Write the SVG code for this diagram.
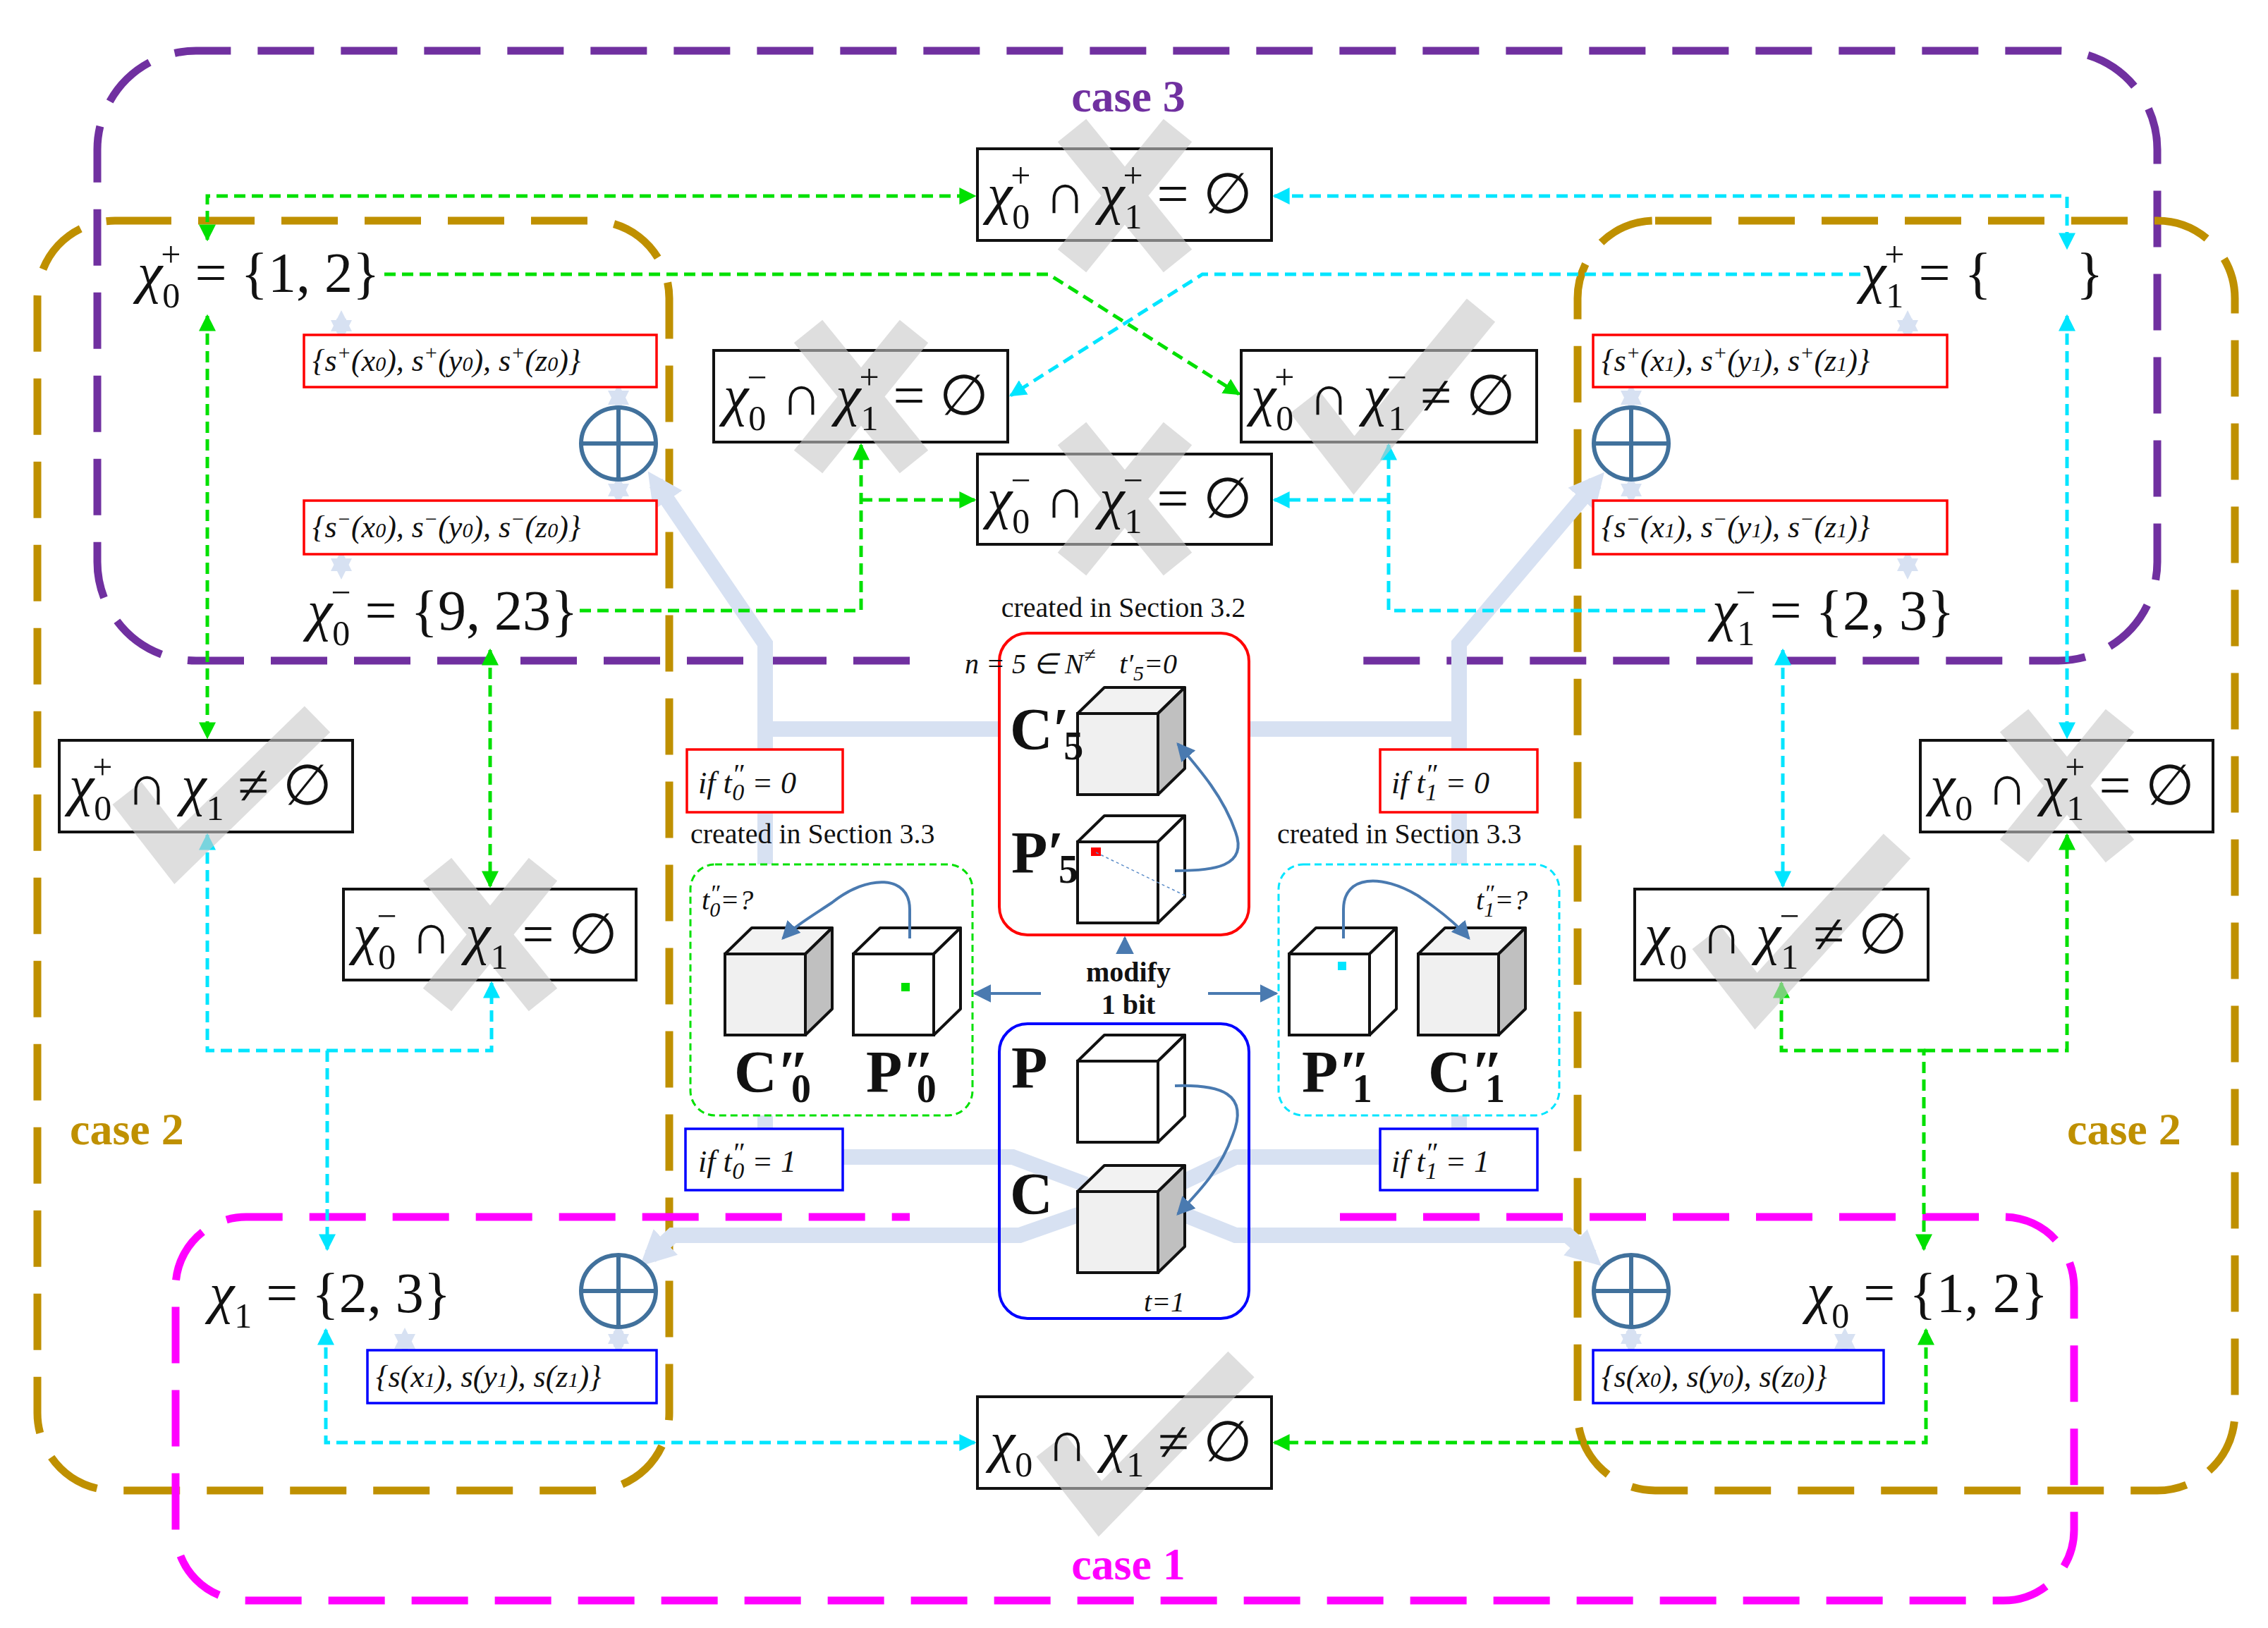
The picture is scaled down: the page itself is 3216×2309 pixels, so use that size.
<svg xmlns="http://www.w3.org/2000/svg" width="3216" height="2309" viewBox="0 0 3216 2309">
<style>
.m{font-family:"Liberation Serif",serif;font-size:80px;fill:#111}
.s{font-size:50px}
.i{font-style:italic}
.sm{font-family:"Liberation Serif",serif;font-size:44px;fill:#111;font-style:italic}
.lbl{font-family:"Liberation Serif",serif;font-size:40px;fill:#111}
.bold{font-family:"Liberation Serif",serif;font-size:84px;font-weight:bold;fill:#111}
.case{font-family:"Liberation Serif",serif;font-size:64px;font-weight:bold}
.box{fill:#fff;stroke:#111;stroke-width:4}
.mark{fill:none;stroke:#c8c8c8;stroke-width:52;opacity:0.6}
.rb{fill:#fff;stroke:#ff0000;stroke-width:3.5}
.bb{fill:#fff;stroke:#0000ff;stroke-width:3.5}
.g{fill:none;stroke:#00e000;stroke-width:5;stroke-dasharray:16 9}
.c{fill:none;stroke:#00e5ff;stroke-width:5;stroke-dasharray:16 9}
.thick{fill:none;stroke:#d7e1f2;stroke-width:22}
.tiny{fill:none;stroke:#d7e1f2;stroke-width:14}
.sb{fill:none;stroke:#4a7ab0;stroke-width:4}
.op{fill:none;stroke:#41719c;stroke-width:6}
</style>
<defs>
<marker id="ag" markerUnits="userSpaceOnUse" markerWidth="24" markerHeight="24" viewBox="0 0 10 10" refX="9" refY="5" orient="auto-start-reverse"><path d="M0,0 L10,5 L0,10 z" fill="#00e000"/></marker>
<marker id="ac" markerUnits="userSpaceOnUse" markerWidth="24" markerHeight="24" viewBox="0 0 10 10" refX="9" refY="5" orient="auto-start-reverse"><path d="M0,0 L10,5 L0,10 z" fill="#00e5ff"/></marker>
<marker id="al" markerUnits="userSpaceOnUse" markerWidth="50" markerHeight="50" viewBox="0 0 10 10" refX="6" refY="5" orient="auto-start-reverse"><path d="M0,0 L10,5 L0,10 z" fill="#d7e1f2"/></marker>
<marker id="at" markerUnits="userSpaceOnUse" markerWidth="30" markerHeight="30" viewBox="0 0 10 10" refX="6" refY="5" orient="auto-start-reverse"><path d="M0,0 L10,5 L0,10 z" fill="#d7e1f2"/></marker>
<marker id="ab" markerUnits="userSpaceOnUse" markerWidth="26" markerHeight="26" viewBox="0 0 10 10" refX="9" refY="5" orient="auto-start-reverse"><path d="M0,0 L10,5 L0,10 z" fill="#4a7ab0"/></marker>
<g id="cubeG">
<polygon points="0,0 38,-37 152,-37 114,0" fill="#f2f2f2" stroke="#111" stroke-width="4" stroke-linejoin="round"/>
<polygon points="114,0 152,-37 152,78 114,115" fill="#c0c0c0" stroke="#111" stroke-width="4" stroke-linejoin="round"/>
<rect x="0" y="0" width="114" height="115" fill="#f0f0f0" stroke="#111" stroke-width="4"/>
</g>
<g id="cubeW">
<polygon points="0,0 38,-37 152,-37 114,0" fill="#fff" stroke="#111" stroke-width="4" stroke-linejoin="round"/>
<polygon points="114,0 152,-37 152,78 114,115" fill="#fff" stroke="#111" stroke-width="4" stroke-linejoin="round"/>
<rect x="0" y="0" width="114" height="115" fill="#fff" stroke="#111" stroke-width="4"/>
</g>
</defs>
<rect width="3216" height="2309" fill="#fff"/>

<g id="regions" fill="none" stroke-width="11" stroke-dasharray="80 38">
<path d="M1290,937 H278 A140,140 0 0 1 138,797 V212 A140,140 0 0 1 278,72 H2919 A140,140 0 0 1 3059,212 V797 A140,140 0 0 1 2919,937 H1900" stroke="#7030a0"/>
<rect x="53" y="313" width="896" height="1801" rx="110" stroke="#bf9000"/>
<rect x="2237" y="313" width="932" height="1801" rx="110" stroke="#bf9000"/>
<path d="M1900,1726 H2841 A100,100 0 0 1 2941,1826 V2170 A100,100 0 0 1 2841,2270 H349 A100,100 0 0 1 249,2170 V1826 A100,100 0 0 1 349,1726 H1290" stroke="#ff00ff"/>
<text class="case" x="1600" y="158" text-anchor="middle" fill="#7030a0" stroke="none">case 3</text>
<text class="case" x="99" y="1623" fill="#bf9000" stroke="none">case 2</text>
<text class="case" x="2931" y="1623" fill="#bf9000" stroke="none">case 2</text>
<text class="case" x="1600" y="2240" text-anchor="middle" fill="#ff00ff" stroke="none">case 1</text>
</g>

<g id="flows">
<path class="thick" d="M1085,1063 V913 L930,685" marker-end="url(#al)"/>
<path class="thick" d="M1085,1034 H1417"/>
<path class="thick" d="M1085,1152 V1226 M1085,1582 V1601"/>
<path class="thick" d="M2069,1063 V913 L2262,685" marker-end="url(#al)"/>
<path class="thick" d="M1771,1034 H2069"/>
<path class="thick" d="M2069,1152 V1226 M2069,1582 V1601"/>
<path class="thick" d="M1195,1641 H1436 L1540,1680"/>
<path class="thick" d="M1540,1719 L1446,1752 H954 L922,1782" marker-end="url(#al)"/>
<path class="thick" d="M1670,1680 L1752,1641 H1957"/>
<path class="thick" d="M1670,1719 L1752,1752 H2223 L2256,1782" marker-end="url(#al)"/>
<g class="tiny">
<path d="M484,452 V472" marker-start="url(#at)" marker-end="url(#at)"/>
<path d="M877,556 V572" marker-start="url(#at)" marker-end="url(#at)"/>
<path d="M877,686 V704" marker-start="url(#at)" marker-end="url(#at)"/>
<path d="M484,792 V810" marker-start="url(#at)" marker-end="url(#at)"/>
<path d="M2705,452 V472" marker-start="url(#at)" marker-end="url(#at)"/>
<path d="M2313,556 V572" marker-start="url(#at)" marker-end="url(#at)"/>
<path d="M2313,686 V704" marker-start="url(#at)" marker-end="url(#at)"/>
<path d="M2705,792 V810" marker-start="url(#at)" marker-end="url(#at)"/>
<path d="M574,1895 V1910" marker-start="url(#at)" marker-end="url(#at)"/>
<path d="M877,1888 V1910" marker-start="url(#at)" marker-end="url(#at)"/>
<path d="M2313,1888 V1910" marker-start="url(#at)" marker-end="url(#at)"/>
<path d="M2616,1895 V1910" marker-start="url(#at)" marker-end="url(#at)"/>
</g>
</g>

<g id="connectors">
<path class="g" d="M294,340 V278 H1382" marker-start="url(#ag)" marker-end="url(#ag)"/>
<path class="g" d="M545,389 H1487 L1757,559" marker-end="url(#ag)"/>
<path class="g" d="M294,448 V1046" marker-start="url(#ag)" marker-end="url(#ag)"/>
<path class="g" d="M822,866 H1221 V631" marker-end="url(#ag)"/>
<path class="g" d="M1221,709 H1382" marker-end="url(#ag)"/>
<path class="g" d="M695,922 V1257" marker-start="url(#ag)" marker-end="url(#ag)"/>
<path class="g" d="M2728,1772 V1490 H2526 V1394" marker-start="url(#ag)" marker-end="url(#ag)"/>
<path class="g" d="M2728,1490 H2931 V1184" marker-end="url(#ag)"/>
<path class="g" d="M2731,1886 V2046 H1807" marker-start="url(#ag)" marker-end="url(#ag)"/>
<path class="c" d="M1807,278 H2931 V352" marker-start="url(#ac)" marker-end="url(#ac)"/>
<path class="c" d="M2638,389 H1705 L1433,561" marker-end="url(#ac)"/>
<path class="c" d="M2931,448 V1046" marker-start="url(#ac)" marker-end="url(#ac)"/>
<path class="c" d="M2418,866 H1969 V631" marker-end="url(#ac)"/>
<path class="c" d="M1969,709 H1807" marker-end="url(#ac)"/>
<path class="c" d="M2528,922 V1257" marker-start="url(#ac)" marker-end="url(#ac)"/>
<path class="c" d="M294,1184 V1490 H697 V1394" marker-start="url(#ac)" marker-end="url(#ac)"/>
<path class="c" d="M464,1490 V1772" marker-end="url(#ac)"/>
<path class="c" d="M462,1886 V2046 H1382" marker-start="url(#ac)" marker-end="url(#ac)"/>
<path class="sb" d="M1476,1409 H1382" marker-end="url(#ab)"/>
<path class="sb" d="M1713,1409 H1810" marker-end="url(#ab)"/>
<path class="sb" d="M1595,1345 V1330" marker-end="url(#ab)"/>
</g>

<g id="n-A"><rect class="box" x="1386" y="211" width="417" height="130"/><path class="mark" d="M1520,185 L1670,370 M1670,185 L1520,370"/>
<text class="m" x="1400" y="302"><tspan class="i">χ</tspan><tspan class="s" dy="22">0</tspan><tspan class="s" dx="-27" dy="-58">+</tspan><tspan dy="36"> ∩ <tspan class="i">χ</tspan></tspan><tspan class="s" dy="22">1</tspan><tspan class="s" dx="-27" dy="-58">+</tspan><tspan dy="36"> = ∅</tspan></text></g>
<g id="n-B"><rect class="box" x="1012" y="497" width="417" height="130"/><path class="mark" d="M1146,470 L1296,655 M1296,470 L1146,655"/>
<text class="m" x="1026" y="588"><tspan class="i">χ</tspan><tspan class="s" dy="22">0</tspan><tspan class="s" dx="-27" dy="-58">−</tspan><tspan dy="36"> ∩ <tspan class="i">χ</tspan></tspan><tspan class="s" dy="22">1</tspan><tspan class="s" dx="-27" dy="-58">+</tspan><tspan dy="36"> = ∅</tspan></text></g>
<g id="n-C"><rect class="box" x="1386" y="644" width="417" height="128"/><path class="mark" d="M1520,615 L1670,800 M1670,615 L1520,800"/>
<text class="m" x="1400" y="734"><tspan class="i">χ</tspan><tspan class="s" dy="22">0</tspan><tspan class="s" dx="-27" dy="-58">−</tspan><tspan dy="36"> ∩ <tspan class="i">χ</tspan></tspan><tspan class="s" dy="22">1</tspan><tspan class="s" dx="-27" dy="-58">−</tspan><tspan dy="36"> = ∅</tspan></text></g>
<g id="n-D"><rect class="box" x="1760" y="497" width="419" height="130"/><path class="mark" d="M1850,570 L1920,660 L2100,440"/>
<text class="m" x="1774" y="588"><tspan class="i">χ</tspan><tspan class="s" dy="22">0</tspan><tspan class="s" dx="-27" dy="-58">+</tspan><tspan dy="36"> ∩ <tspan class="i">χ</tspan></tspan><tspan class="s" dy="22">1</tspan><tspan class="s" dx="-27" dy="-58">−</tspan><tspan dy="36"> ≠ ∅</tspan></text></g>
<g id="n-E"><rect class="box" x="84" y="1050" width="416" height="130"/><path class="mark" d="M180,1125 L250,1215 L450,1020"/>
<text class="m" x="98" y="1141"><tspan class="i">χ</tspan><tspan class="s" dy="22">0</tspan><tspan class="s" dx="-27" dy="-58">+</tspan><tspan dy="36"> ∩ <tspan class="i">χ</tspan></tspan><tspan class="s" dy="22">1</tspan><tspan dy="-22"> ≠ ∅</tspan></text></g>
<g id="n-F"><rect class="box" x="487" y="1261" width="415" height="129"/><path class="mark" d="M620,1233 L770,1418 M770,1233 L620,1418"/>
<text class="m" x="501" y="1352"><tspan class="i">χ</tspan><tspan class="s" dy="22">0</tspan><tspan class="s" dx="-27" dy="-58">−</tspan><tspan dy="36"> ∩ <tspan class="i">χ</tspan></tspan><tspan class="s" dy="22">1</tspan><tspan dy="-22"> = ∅</tspan></text></g>
<g id="n-G"><rect class="box" x="2723" y="1050" width="415" height="130"/><path class="mark" d="M2856,1022 L3006,1207 M3006,1022 L2856,1207"/>
<text class="m" x="2737" y="1141"><tspan class="i">χ</tspan><tspan class="s" dy="22">0</tspan><tspan dy="-22"> ∩ <tspan class="i">χ</tspan></tspan><tspan class="s" dy="22">1</tspan><tspan class="s" dx="-27" dy="-58">+</tspan><tspan dy="36"> = ∅</tspan></text></g>
<g id="n-H"><rect class="box" x="2318" y="1261" width="416" height="129"/><path class="mark" d="M2420,1330 L2490,1420 L2690,1200"/>
<text class="m" x="2332" y="1352"><tspan class="i">χ</tspan><tspan class="s" dy="22">0</tspan><tspan dy="-22"> ∩ <tspan class="i">χ</tspan></tspan><tspan class="s" dy="22">1</tspan><tspan class="s" dx="-27" dy="-58">−</tspan><tspan dy="36"> ≠ ∅</tspan></text></g>
<g id="n-I"><rect class="box" x="1386" y="1981" width="417" height="130"/><path class="mark" d="M1490,2050 L1560,2140 L1760,1935"/>
<text class="m" x="1404" y="2072"><tspan class="i">χ</tspan><tspan class="s" dy="22">0</tspan><tspan dy="-22"> ∩ <tspan class="i">χ</tspan></tspan><tspan class="s" dy="22">1</tspan><tspan dy="-22"> ≠ ∅</tspan></text></g>

<g id="n-sets">
<text class="m" x="195" y="414"><tspan class="i">χ</tspan><tspan class="s" dy="22">0</tspan><tspan class="s" dx="-27" dy="-58">+</tspan><tspan dy="36"> = {1, 2}</tspan></text>
<text class="m" x="436" y="893"><tspan class="i">χ</tspan><tspan class="s" dy="22">0</tspan><tspan class="s" dx="-27" dy="-58">−</tspan><tspan dy="36"> = {9, 23}</tspan></text>
<text class="m" x="2639" y="414"><tspan class="i">χ</tspan><tspan class="s" dy="22">1</tspan><tspan class="s" dx="-27" dy="-58">+</tspan><tspan dy="36"> = {</tspan><tspan dx="120">}</tspan></text>
<text class="m" x="2428" y="893"><tspan class="i">χ</tspan><tspan class="s" dy="22">1</tspan><tspan class="s" dx="-27" dy="-58">−</tspan><tspan dy="36"> = {2, 3}</tspan></text>
<text class="m" x="297" y="1861"><tspan class="i">χ</tspan><tspan class="s" dy="22">1</tspan><tspan dy="-22"> = {2, 3}</tspan></text>
<text class="m" x="2562" y="1861"><tspan class="i">χ</tspan><tspan class="s" dy="22">0</tspan><tspan dy="-22"> = {1, 2}</tspan></text>
</g>

<g id="n-small">
<rect class="rb" x="431" y="475" width="500" height="74"/><text class="sm" x="443" y="526" font-size="46">{s<tspan font-size="30" dy="-16">+</tspan><tspan dy="16">(x</tspan><tspan font-size="30">0</tspan>), s<tspan font-size="30" dy="-16">+</tspan><tspan dy="16">(y</tspan><tspan font-size="30">0</tspan>), s<tspan font-size="30" dy="-16">+</tspan><tspan dy="16">(z</tspan><tspan font-size="30">0</tspan>)}</text>
<rect class="rb" x="431" y="710" width="500" height="76"/><text class="sm" x="443" y="762" font-size="46">{s<tspan font-size="30" dy="-16">−</tspan><tspan dy="16">(x</tspan><tspan font-size="30">0</tspan>), s<tspan font-size="30" dy="-16">−</tspan><tspan dy="16">(y</tspan><tspan font-size="30">0</tspan>), s<tspan font-size="30" dy="-16">−</tspan><tspan dy="16">(z</tspan><tspan font-size="30">0</tspan>)}</text>
<rect class="rb" x="2259" y="475" width="502" height="74"/><text class="sm" x="2271" y="526" font-size="46">{s<tspan font-size="30" dy="-16">+</tspan><tspan dy="16">(x</tspan><tspan font-size="30">1</tspan>), s<tspan font-size="30" dy="-16">+</tspan><tspan dy="16">(y</tspan><tspan font-size="30">1</tspan>), s<tspan font-size="30" dy="-16">+</tspan><tspan dy="16">(z</tspan><tspan font-size="30">1</tspan>)}</text>
<rect class="rb" x="2259" y="710" width="502" height="76"/><text class="sm" x="2271" y="762" font-size="46">{s<tspan font-size="30" dy="-16">−</tspan><tspan dy="16">(x</tspan><tspan font-size="30">1</tspan>), s<tspan font-size="30" dy="-16">−</tspan><tspan dy="16">(y</tspan><tspan font-size="30">1</tspan>), s<tspan font-size="30" dy="-16">−</tspan><tspan dy="16">(z</tspan><tspan font-size="30">1</tspan>)}</text>
<rect class="bb" x="521" y="1915" width="410" height="75"/><text class="sm" x="533" y="1967" font-size="46">{s(x<tspan font-size="30">1</tspan>), s(y<tspan font-size="30">1</tspan>), s(z<tspan font-size="30">1</tspan>)}</text>
<rect class="bb" x="2259" y="1915" width="412" height="75"/><text class="sm" x="2271" y="1967" font-size="46">{s(x<tspan font-size="30">0</tspan>), s(y<tspan font-size="30">0</tspan>), s(z<tspan font-size="30">0</tspan>)}</text>
<rect class="rb" x="974" y="1063" width="221" height="89"/><text class="sm" x="990" y="1125" font-size="52" font-style="normal">if <tspan font-style="italic">t</tspan><tspan font-size="40" dy="-14">″</tspan><tspan font-size="34" dx="-16" dy="24">0</tspan><tspan dy="-10"> = 0</tspan></text>
<rect class="rb" x="1957" y="1063" width="223" height="89"/><text class="sm" x="1973" y="1125" font-size="52" font-style="normal">if <tspan font-style="italic">t</tspan><tspan font-size="40" dy="-14">″</tspan><tspan font-size="34" dx="-16" dy="24">1</tspan><tspan dy="-10"> = 0</tspan></text>
<rect class="bb" x="972" y="1601" width="223" height="87"/><text class="sm" x="990" y="1662" font-size="52" font-style="normal">if <tspan font-style="italic">t</tspan><tspan font-size="40" dy="-14">″</tspan><tspan font-size="34" dx="-16" dy="24">0</tspan><tspan dy="-10"> = 1</tspan></text>
<rect class="bb" x="1957" y="1601" width="223" height="87"/><text class="sm" x="1973" y="1662" font-size="52" font-style="normal">if <tspan font-style="italic">t</tspan><tspan font-size="40" dy="-14">″</tspan><tspan font-size="34" dx="-16" dy="24">1</tspan><tspan dy="-10"> = 1</tspan></text>
</g>

<g id="n-oplus" class="op">
<ellipse cx="877" cy="629" rx="53" ry="51"/><path d="M824,629 H930 M877,578 V680"/>
<ellipse cx="2313" cy="629" rx="53" ry="51"/><path d="M2260,629 H2366 M2313,578 V680"/>
<ellipse cx="877" cy="1831" rx="53" ry="51"/><path d="M824,1831 H930 M877,1780 V1882"/>
<ellipse cx="2313" cy="1831" rx="53" ry="51"/><path d="M2260,1831 H2366 M2313,1780 V1882"/>
</g>

<g id="n-sec32">
<text class="lbl" x="1593" y="875" text-anchor="middle">created in Section 3.2</text>
<rect x="1417" y="898" width="354" height="428" rx="40" fill="none" stroke="#ff0000" stroke-width="4"/>
<text class="lbl" x="1368" y="955" font-style="italic" font-size="42">n = 5 ∈ N<tspan font-size="30" dy="-16">≠</tspan><tspan dy="16" dx="34">t′</tspan><tspan font-size="30" dy="10">5</tspan><tspan dy="-10">=0</tspan></text>
<use href="#cubeG" x="1528" y="1012"/>
<use href="#cubeW" x="1528" y="1194"/>
<rect x="1547" y="1202" width="14" height="12" fill="#ff0000"/>
<path d="M1554,1209 L1680,1270" stroke="#5b8cc8" stroke-width="1.5" stroke-dasharray="4 4" fill="none"/>
<text class="bold" x="1432" y="1063">C′<tspan font-size="56" dx="-8" dy="14">5</tspan></text>
<text class="bold" x="1434" y="1238">P′<tspan font-size="56" dx="-8" dy="14">5</tspan></text>
<path class="sb" d="M1666,1235 C1720,1235 1770,1230 1752,1180 C1735,1130 1700,1090 1670,1055" marker-end="url(#ab)"/>
</g>
<g id="n-modify">
<text class="lbl" x="1600" y="1392" text-anchor="middle" font-size="48" font-weight="bold">modify</text>
<text class="lbl" x="1600" y="1438" text-anchor="middle" font-size="48" font-weight="bold">1 bit</text>
</g>
<g id="n-PC">
<rect x="1417" y="1452" width="354" height="418" rx="40" fill="none" stroke="#0000ff" stroke-width="4"/>
<use href="#cubeW" x="1528" y="1505"/>
<use href="#cubeG" x="1528" y="1690"/>
<text class="bold" x="1434" y="1543">P</text>
<text class="bold" x="1432" y="1722">C</text>
<text class="lbl" x="1622" y="1860" font-style="italic" font-size="44">t=1</text>
<path class="sb" d="M1666,1540 C1730,1538 1772,1550 1748,1610 C1730,1660 1700,1690 1670,1722" marker-end="url(#ab)"/>
</g>
<g id="n-sec33a">
<text class="lbl" x="979" y="1196">created in Section 3.3</text>
<rect x="979" y="1226" width="400" height="356" rx="35" fill="none" stroke="#00e000" stroke-width="3" stroke-dasharray="10 6"/>
<text class="lbl" x="995" y="1290" font-style="italic" font-size="46">t<tspan font-size="34" dy="-12">″</tspan><tspan font-size="30" dx="-14" dy="22">0</tspan><tspan dy="-10">=?</tspan></text>
<use href="#cubeG" x="1028" y="1353"/>
<use href="#cubeW" x="1210" y="1353"/>
<rect x="1278" y="1394" width="12" height="12" fill="#00e000"/>
<text class="bold" x="1041" y="1549">C″<tspan font-size="56" dx="-26" dy="14">0</tspan></text>
<text class="bold" x="1228" y="1549">P″<tspan font-size="56" dx="-26" dy="14">0</tspan></text>
<path class="sb" d="M1290,1331 V1290 C1290,1240 1230,1240 1180,1280 C1150,1300 1125,1315 1110,1331" marker-end="url(#ab)"/>
</g>
<g id="n-sec33b">
<text class="lbl" x="1811" y="1196">created in Section 3.3</text>
<rect x="1813" y="1226" width="398" height="356" rx="35" fill="none" stroke="#00e5ff" stroke-width="3" stroke-dasharray="10 6"/>
<text class="lbl" x="2093" y="1290" font-style="italic" font-size="46">t<tspan font-size="34" dy="-12">″</tspan><tspan font-size="30" dx="-14" dy="22">1</tspan><tspan dy="-10">=?</tspan></text>
<use href="#cubeW" x="1828" y="1353"/>
<use href="#cubeG" x="2011" y="1353"/>
<rect x="1897" y="1364" width="12" height="12" fill="#00e5ff"/>
<text class="bold" x="1846" y="1549">P″<tspan font-size="56" dx="-26" dy="14">1</tspan></text>
<text class="bold" x="2025" y="1549">C″<tspan font-size="56" dx="-26" dy="14">1</tspan></text>
<path class="sb" d="M1905,1331 V1290 C1905,1240 1960,1240 2010,1270 C2040,1290 2065,1310 2083,1331" marker-end="url(#ab)"/>
</g>
</svg>
